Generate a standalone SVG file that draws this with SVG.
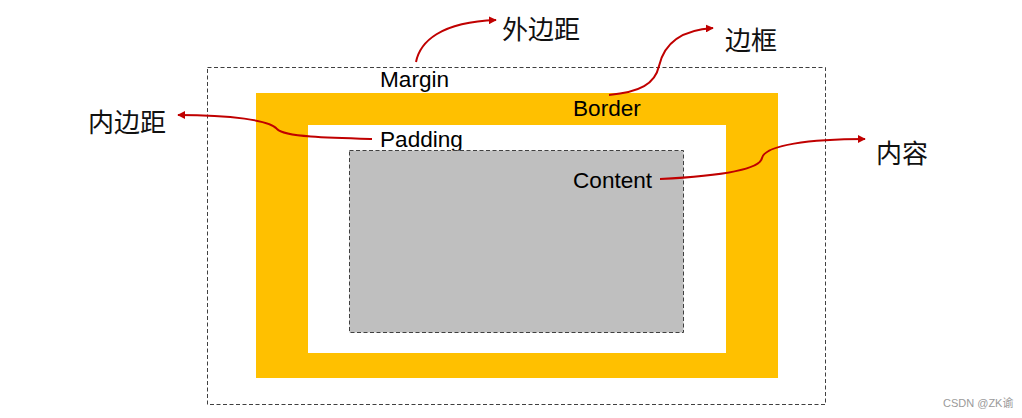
<svg xmlns="http://www.w3.org/2000/svg" width="1022" height="418" viewBox="0 0 1022 418">
<style>
.dash{fill:none;stroke:#404040;stroke-width:1;stroke-dasharray:4 2.5}
.en{font-family:"Liberation Sans",Arial,sans-serif;font-size:22.6px;fill:#000}
.cn{font-family:"Noto Sans CJK SC","Noto Sans",sans-serif;font-size:26px;fill:#111}
.arr{fill:none;stroke:#C00000;stroke-width:2;marker-end:url(#ah)}
.wm{font-family:"Liberation Sans","Noto Sans CJK SC",sans-serif;font-size:11px;fill:#9a9a9a}
</style>
<defs>
<marker id="ah" viewBox="0 0 10 10" refX="9" refY="5" markerWidth="4" markerHeight="4" orient="auto" markerUnits="strokeWidth">
<path d="M0,0 L10,5 L0,10 Z" fill="#C00000"/>
</marker>
</defs>
<rect width="1022" height="418" fill="#fff"/>
<g id="margin">
<rect class="dash" x="207.5" y="67.5" width="618" height="337"/>
<text class="en" x="380" y="87">Margin</text>
</g>
<g id="border">
<rect x="256" y="93" width="522" height="285" fill="#FFC000"/>
<text class="en" x="573" y="116">Border</text>
</g>
<g id="padding">
<rect x="308" y="125" width="418" height="228" fill="#fff"/>
<text class="en" x="380" y="147">Padding</text>
</g>
<g id="content">
<rect x="349.5" y="150.5" width="334" height="182" fill="#BFBFBF"/>
<rect class="dash" x="349.5" y="150.5" width="334" height="182"/>
<text class="en" x="573" y="188">Content</text>
</g>
<g id="labels">
<text class="cn" x="502" y="39">外边距</text>
<text class="cn" x="725" y="50">边框</text>
<text class="cn" x="88" y="132">内边距</text>
<text class="cn" x="876" y="163">内容</text>
</g>
<g id="connectors">
<path class="arr" d="M416,62 C420,42 440,22 496,20"/>
<path class="arr" d="M609,95 C640,92 655,84 659,66 C664,44 680,30 713,28"/>
<path class="arr" d="M372,139 C330,138 284,137 277,129 C270,120 230,115 178,115"/>
<path class="arr" d="M660,179 C720,176 760,170 762,158 C765,145 810,139 865,139"/>
</g>
<text class="wm" x="943" y="407">CSDN @ZK谕</text>
</svg>
